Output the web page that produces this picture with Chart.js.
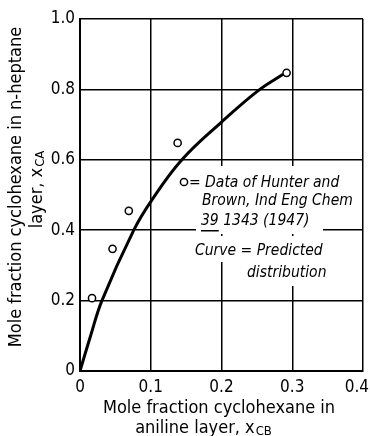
<!DOCTYPE html>
<html>
<head>
<meta charset="utf-8">
<script src="https://cdn.jsdelivr.net/npm/chart.js@4"></script>
<style>
  body { margin: 0; background: #fff; }
  canvas { display: block; }
</style>
</head>
<body>
<canvas id="myChart" width="370" height="436"></canvas>
<script>
'use strict';
// measured points (Hunter and Brown)
let dataX = [0.017, 0.046, 0.069, 0.138, 0.292];
let dataY = [0.207, 0.347, 0.455, 0.648, 0.847];
// predicted distribution curve
let curveX = [0, 0.015, 0.031, 0.076, 0.101, 0.144, 0.2, 0.251, 0.287];
let curveY = [0, 0.1, 0.2, 0.4, 0.484, 0.6, 0.707, 0.795, 0.843];
let xTickLabels = ['0', '0.1', '0.2', '0.3', '0.4'];
let yTickLabels = ['0', '0.2', '0.4', '0.6', '0.8', '1.0'];

let tickFont = 'DejaVu Sans Condensed, sans-serif';
let noteFont = 'italic 15.5px DejaVu Sans Condensed, sans-serif';

function textWithSub(ctx, main, sub, x, y, size) {
  // main text + smaller subscript, centred at x
  ctx.font = size + 'px ' + tickFont;
  let w1 = ctx.measureText(main).width;
  ctx.font = Math.round(size * 0.72) + 'px ' + tickFont;
  let w2 = ctx.measureText(sub).width;
  let start = x - (w1 + w2) / 2;
  ctx.textAlign = 'left';
  ctx.font = size + 'px ' + tickFont;
  ctx.fillText(main, start, y);
  ctx.font = Math.round(size * 0.72) + 'px ' + tickFont;
  ctx.fillText(sub, start + w1 + 1, y + 4);
}

let notesPlugin = {
  id: 'notes',
  beforeDatasetsDraw(chart) {
    let ctx = chart.ctx;
    ctx.save();
    ctx.fillStyle = '#fff';
    ctx.fillRect(188, 166, 167, 46);
    ctx.fillRect(196, 212, 127, 22);
    ctx.fillRect(192, 236, 150, 26);
    ctx.fillRect(240, 262, 112, 24);
    ctx.fillStyle = '#000';
    ctx.font = noteFont;
    ctx.textAlign = 'left';
    ctx.textBaseline = 'middle';
    ctx.fillText('= Data of Hunter and', 189, 183);
    ctx.fillText('Brown, Ind Eng Chem', 202, 201);
    ctx.fillText('39 1343 (1947)', 201, 221);
    let w39 = ctx.measureText('39').width;
    ctx.fillRect(201, 230, w39, 1.5);
    ctx.fillText('Curve = Predicted', 195, 251);
    ctx.fillText('distribution', 247, 273);
    ctx.restore();
  },
  afterDatasetsDraw(chart) {
    // legend circle for the data
    let ctx = chart.ctx;
    ctx.save();
    ctx.strokeStyle = '#000';
    ctx.lineWidth = 1.5;
    ctx.fillStyle = '#fff';
    ctx.beginPath();
    ctx.arc(184, 182, 3.6, 0, Math.PI * 2);
    ctx.fill();
    ctx.stroke();
    ctx.restore();
  },
  afterDraw(chart) {
    let ctx = chart.ctx;
    let xs = chart.scales.x;
    ctx.save();
    ctx.fillStyle = '#000';
    ctx.textBaseline = 'middle';
    // x tick labels, last one kept inside the canvas
    ctx.font = '17px ' + tickFont;
    ctx.textAlign = 'center';
    for (let i = 0; i < xs.ticks.length; i++) {
      let lab = xTickLabels[i];
      let w = ctx.measureText(lab).width;
      let px = Math.min(xs.getPixelForTick(i), chart.width - w / 2 - 1);
      ctx.fillText(lab, px, 388);
    }
    // x axis title
    ctx.font = '18px ' + tickFont;
    ctx.fillText('Mole fraction cyclohexane in', 219, 408);
    textWithSub(ctx, 'aniline layer, x', 'CB', 203, 428, 18);
    // y axis title
    ctx.rotate(-Math.PI / 2);
    ctx.font = '18px ' + tickFont;
    ctx.textAlign = 'center';
    ctx.fillText('Mole fraction cyclohexane in n-heptane', -187, 16);
    textWithSub(ctx, 'layer, x', 'CA', -190, 37, 18);
    ctx.restore();
  }
};

let ctx = document.getElementById('myChart').getContext('2d');
let myChart = new Chart(ctx, {
  type: 'scatter',
  data: {
    datasets: [
      {
        label: 'Data of Hunter and Brown',
        data: dataX.map((x, i) => ({ x: x, y: dataY[i] })),
        pointRadius: 3.6,
        pointBorderWidth: 1.5,
        pointBorderColor: '#000',
        pointBackgroundColor: '#fff',
        showLine: false
      },
      {
        label: 'Predicted distribution',
        data: curveX.map((x, i) => ({ x: x, y: curveY[i] })),
        showLine: true,
        borderColor: '#000',
        borderWidth: 3,
        pointRadius: 0,
        tension: 0.4,
        order: 1
      }
    ]
  },
  options: {
    responsive: false,
    animation: false,
    devicePixelRatio: 1,
    layout: { padding: { top: 19, right: 7, left: 0, bottom: 0 } },
    plugins: {
      legend: { display: false },
      tooltip: { enabled: false }
    },
    scales: {
      x: {
        type: 'linear',
        min: 0,
        max: 0.4,
        afterFit(s) { s.height = 65; s.paddingRight = 0; s.paddingLeft = 0; },
        ticks: {
          stepSize: 0.1,
          display: false
        },
        grid: { color: '#000', lineWidth: 1.5, drawTicks: false },
        border: { color: '#000', width: 2 }
      },
      y: {
        type: 'linear',
        min: 0,
        max: 1,
        afterFit(s) { s.width = 80; s.paddingTop = 0; s.paddingBottom = 0; },
        ticks: {
          stepSize: 0.2,
          padding: 5,
          color: '#000',
          font: { family: tickFont, size: 17 },
          callback: (v, i) => yTickLabels[i]
        },
        grid: { color: '#000', lineWidth: 1.5, drawTicks: false },
        border: { color: '#000', width: 2 }
      }
    }
  },
  plugins: [notesPlugin]
});
</script>
</body>
</html>
